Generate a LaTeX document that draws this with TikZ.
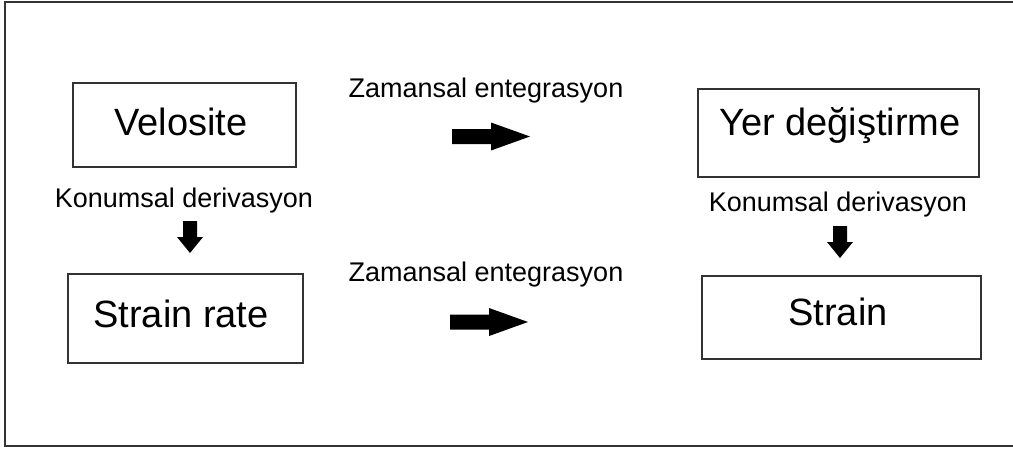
\documentclass[tikz,border=0pt]{standalone}
\usepackage{fontspec}
\setmainfont{Liberation Sans}
\begin{document}
\begin{tikzpicture}[x=1pt,y=-1pt,
  frame/.style={draw=black!80,line width=1.5pt},
  box/.style={draw=black!80,line width=1.5pt,rectangle,inner sep=0pt},
  bigtext/.style={inner sep=0pt,anchor=base,font=\fontsize{38}{40}\selectfont},
  smalltext/.style={inner sep=0pt,anchor=base,font=\fontsize{27}{30}\selectfont},
  rarrow/.pic={\fill[black] (0,-7.5) -- (39,-7.5) -- (39,-14) -- (78,0) -- (39,14) -- (39,7.5) -- (0,7.5) -- cycle;},
  darrow/.pic={\fill[black] (-7,0) -- (-7,16) -- (-13,16) -- (0,32) -- (13,16) -- (7,16) -- (7,0) -- cycle;}]
\clip (0,0) rectangle (1013,448);
\fill[white] (0,0) rectangle (1013,448);
% outer frame, open to the right
\draw[frame] (1020,2) -- (5,2) -- (5,446) -- (1020,446);

% boxes
\node[box,minimum width=223pt,minimum height=84pt] (vel) at (184.5,125) {};
\node[box,minimum width=281pt,minimum height=88pt] (yer) at (838.5,133) {};
\node[box,minimum width=235pt,minimum height=89pt] (srate) at (185.5,318.5) {};
\node[box,minimum width=279pt,minimum height=83pt] (strain) at (841.5,317.5) {};

% box texts
\node[bigtext] (velT) at (181,135) {Velosite};
\node[bigtext] (yerT) at (840,135) {Yer değiştirme};
\node[bigtext] (srateT) at (181,327) {Strain rate};
\node[bigtext] (strainT) at (838,325) {Strain};

% operation labels
\node[smalltext] (zam1) at (486,97) {Zamansal entegrasyon};
\node[smalltext] (zam2) at (486,281) {Zamansal entegrasyon};
\node[smalltext] (kon1) at (184,207) {Konumsal derivasyon};
\node[smalltext] (kon2) at (838,211) {Konumsal derivasyon};

% block arrows
\pic at (452,136.5) {rarrow};
\pic at (450,322) {rarrow};
\pic at (190,221) {darrow};
\pic at (840,226) {darrow};
\end{tikzpicture}
\end{document}
